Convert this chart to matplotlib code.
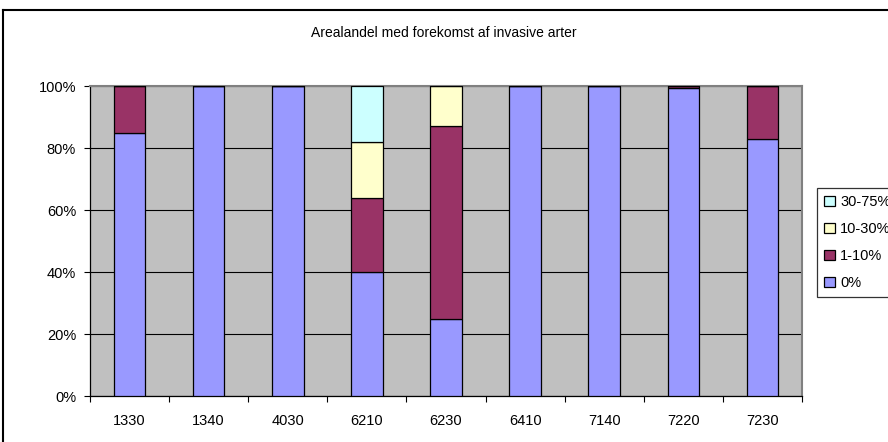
import numpy as np
import matplotlib.pyplot as plt
from matplotlib.lines import Line2D

plt.rcParams['font.family'] = ['Liberation Sans', 'DejaVu Sans']

# habitat types and share of area (%) in each invasive-species cover class
habitats = ['1330', '1340', '4030', '6210', '6230', '6410', '7140', '7220', '7230']
classes = ['0%', '1-10%', '10-30%', '30-75%']
share_0 = [85, 100, 100, 40, 25, 100, 100, 99.5, 83]
share_1_10 = [15, 0, 0, 24, 62, 0, 0, 0.5, 17]
share_10_30 = [0, 0, 0, 18, 13, 0, 0, 0, 0]
share_30_75 = [0, 0, 0, 18, 0, 0, 0, 0, 0]
colors = ['#9999FF', '#993366', '#FFFFCC', '#CCFFFF']

fig = plt.figure(figsize=(8.88, 4.42), dpi=100)
ax = fig.add_axes([90 / 888, 1 - 396 / 442, 712 / 888, 310 / 442])
ax.set_facecolor('#C0C0C0')

x = np.arange(len(habitats))
bottom = np.zeros(len(habitats))
bars = []
for vals, col in zip([share_0, share_1_10, share_10_30, share_30_75], colors):
    vals = np.array(vals, dtype=float)
    b = ax.bar(x, vals, 0.4, bottom=bottom, color=col, edgecolor='black',
               linewidth=0.9, zorder=3)
    bars.append(b)
    bottom += vals

ax.set_xlim(-0.5, len(habitats) - 0.5)
ax.set_ylim(0, 100)
ax.set_yticks(np.arange(0, 101, 20))
ax.set_yticklabels([f'{v}%' for v in range(0, 101, 20)])
ax.yaxis.grid(True, color='black', linewidth=0.8, zorder=1)
ax.set_axisbelow(True)

# category labels centred, ticks on the category boundaries
ax.set_xticks(x)
ax.set_xticklabels(habitats)
ax.set_xticks(np.arange(-0.5, len(habitats), 1), minor=True)
ax.tick_params(axis='x', which='major', length=0, pad=13, labelsize=10.5)
ax.tick_params(axis='x', which='minor', length=4, width=0.8, direction='out')
ax.tick_params(axis='y', length=4, width=0.8, pad=6, labelsize=10.5)

for side in ['top', 'right']:
    ax.spines[side].set_color('#808080')
    ax.spines[side].set_linewidth(1.5)
for side in ['left', 'bottom']:
    ax.spines[side].set_color('black')
    ax.spines[side].set_linewidth(0.9)

fig.text(444 / 888, 1 - 33 / 442, 'Arealandel med forekomst af invasive arter',
         ha='center', va='center', fontsize=10)

handles = [b[0] for b in bars][::-1]
leg = fig.legend(handles, classes[::-1], loc='upper left',
                 bbox_to_anchor=(817 / 888, 1 - 188 / 442),
                 frameon=True, fancybox=False, shadow=False,
                 fontsize=10.5, handlelength=0.7, handleheight=0.7,
                 handletextpad=0.4, labelspacing=0.88, borderpad=0.5,
                 borderaxespad=0)
leg.get_frame().set_edgecolor('black')
leg.get_frame().set_linewidth(0.9)

# outer chart border
fig.add_artist(Line2D([3 / 888, 3 / 888], [0, 1 - 10 / 442], transform=fig.transFigure,
                      color='black', linewidth=1.5))
fig.add_artist(Line2D([3 / 888, 1], [1 - 10 / 442, 1 - 10 / 442], transform=fig.transFigure,
                      color='black', linewidth=1.5))

fig.savefig('out.png', dpi=100)
